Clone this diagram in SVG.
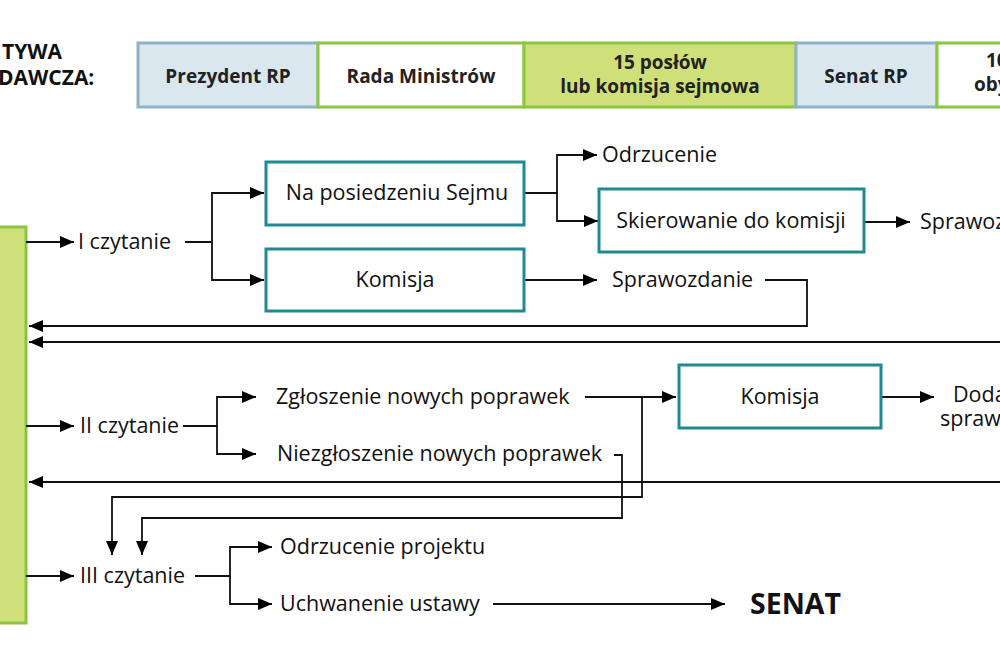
<svg xmlns="http://www.w3.org/2000/svg" width="1000" height="665" viewBox="0 0 1000 665">
<defs>
<marker id="ah" markerUnits="userSpaceOnUse" markerWidth="15" markerHeight="12" refX="14" refY="6" orient="auto">
<path d="M0,0 L14,6 L0,12 z" fill="#000"/>
</marker>
<style>
.t{font-family:"Open Sans","Noto Sans","Liberation Sans",sans-serif;font-size:21.5px;fill:#111}
.tb{font-family:"Open Sans","Noto Sans","Liberation Sans",sans-serif;font-size:19px;font-weight:700;fill:#222}
.hd{font-family:"Open Sans","Noto Sans","Liberation Sans",sans-serif;font-size:21px;font-weight:700;fill:#111}
.blue{fill:#dae7ee;stroke:#8fb3c6;stroke-width:3}
.wg{fill:#fff;stroke:#8cc63f;stroke-width:3}
.yg{fill:#cfe07b;stroke:#8cc63f;stroke-width:3}
.teal{fill:#fff;stroke:#1f8a90;stroke-width:3}
.c path{fill:none;stroke:#111;stroke-width:1.8}
.c path.a{marker-end:url(#ah)}
.m{text-anchor:middle}
</style>
</defs>
<rect width="1000" height="665" fill="#fff"/>

<g id="header">
<text class="hd" x="2" y="59">TYWA</text>
<text class="hd" x="-2" y="85">DAWCZA:</text>
</g>
<g id="prezydent"><rect class="blue" x="138" y="43" width="180" height="64"/><text class="tb m" x="228" y="83">Prezydent RP</text></g>
<g id="rada"><rect class="wg" x="318" y="43" width="206" height="64"/><text class="tb m" x="421" y="83">Rada Ministrów</text></g>
<g id="poslowie"><rect class="yg" x="524" y="43" width="272" height="64"/><text class="tb m" x="660" y="69">15 posłów</text><text class="tb m" x="660" y="93">lub komisja sejmowa</text></g>
<g id="senatrp"><rect class="blue" x="796" y="43" width="141" height="64"/><text class="tb m" x="866" y="83">Senat RP</text></g>
<g id="obywatele"><rect class="wg" x="937" y="43" width="80" height="64"/><text class="tb" x="986" y="67">10</text><text class="tb" x="974" y="91">oby</text></g>

<g id="sejm"><rect class="yg" x="-10" y="227" width="36" height="396"/></g>

<g id="connectors" class="c">
<path class="a" d="M26,242 H74"/>
<path class="a" d="M185,242 H212 V193 H264"/>
<path class="a" d="M212,242 V280 H264"/>
<path class="a" d="M524,193 H557 V155 H597"/>
<path class="a" d="M557,193 V221 H598"/>
<path class="a" d="M864,222 H910"/>
<path class="a" d="M524,280 H597"/>
<path class="a" d="M765,280 H807 V326 H29"/>
<path class="a" d="M1002,342 H29"/>
<path class="a" d="M26,426 H74"/>
<path class="a" d="M183,426 H217 V397 H256"/>
<path class="a" d="M217,426 V454 H256"/>
<path class="a" d="M585,397 H676"/>
<path class="a" d="M642,397 V497 H112 V555"/>
<path class="a" d="M614,455 H622 V518 H142 V555"/>
<path class="a" d="M881,397 H934"/>
<path class="a" d="M1002,482 H29"/>
<path class="a" d="M26,576 H74"/>
<path class="a" d="M195,576 H230 V547 H272"/>
<path class="a" d="M230,576 V604 H272"/>
<path class="a" d="M493,604 H725"/>
</g>

<g id="i-czytanie"><text class="t" x="78" y="249">I czytanie</text></g>
<g id="na-posiedzeniu"><rect class="teal" x="266" y="162" width="258" height="63"/><text class="t m" x="397" y="200">Na posiedzeniu Sejmu</text></g>
<g id="komisja1"><rect class="teal" x="266" y="249" width="258" height="62"/><text class="t m" x="395" y="287">Komisja</text></g>
<g id="odrzucenie"><text class="t" x="602" y="162">Odrzucenie</text></g>
<g id="skierowanie"><rect class="teal" x="599" y="189" width="265" height="63"/><text class="t m" x="731" y="228">Skierowanie do komisji</text></g>
<g id="sprawoz"><text class="t" x="920" y="229">Sprawoz</text></g>
<g id="sprawozdanie"><text class="t" x="612" y="287">Sprawozdanie</text></g>
<g id="ii-czytanie"><text class="t" x="80" y="433">II czytanie</text></g>
<g id="zgloszenie"><text class="t" x="276" y="404">Zgłoszenie nowych poprawek</text></g>
<g id="niezgloszenie"><text class="t" x="277" y="461">Niezgłoszenie nowych poprawek</text></g>
<g id="komisja2"><rect class="teal" x="679" y="365" width="202" height="63"/><text class="t m" x="780" y="404">Komisja</text></g>
<g id="dodane"><text class="t" x="953" y="402">Doda</text><text class="t" x="940" y="426">spraw</text></g>
<g id="iii-czytanie"><text class="t" x="80" y="583">III czytanie</text></g>
<g id="odrzucenie-projektu"><text class="t" x="280" y="554">Odrzucenie projektu</text></g>
<g id="uchwalenie"><text class="t" x="280" y="611">Uchwanenie ustawy</text></g>
<g id="senat"><text x="750" y="614" style="font-family:'Open Sans','Noto Sans','Liberation Sans',sans-serif;font-size:28.5px;font-weight:700;fill:#111">SENAT</text></g>
</svg>
